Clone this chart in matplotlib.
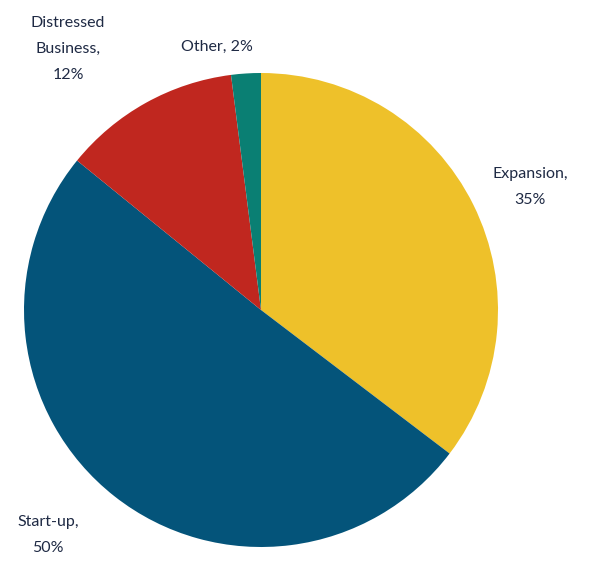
import matplotlib.pyplot as plt

# funding purpose breakdown
categories = ['Expansion', 'Start-up', 'Distressed\nBusiness', 'Other']
shares = [35, 50, 12, 2]
colors = ['#EEC12A', '#04547A', '#C0271F', '#0A7F73']
# Other fits on one line
sep = [',\n', ',\n', ',\n', ', ']

# label anchor points in pixel space (x, y from top-left)
label_px = [(530, 187), (48, 535), (68, 49), (217, 47)]

W, H = 598, 562
cx, cy, r = 261, 310, 237

fig = plt.figure(figsize=(W / 100, H / 100), dpi=100)
ax = fig.add_axes([0, 0, 1, 1])

ax.pie(shares, colors=colors, startangle=90, counterclock=False,
       radius=1, wedgeprops=dict(linewidth=0))

for name, val, s, (px, py) in zip(categories, shares, sep, label_px):
    x = (px - cx) / r
    y = (cy - py) / r
    ax.text(x, y, f'{name}{s}{val}%', ha='center', va='center',
            fontsize=11.5, family=['Lato', 'DejaVu Sans'], color='#1F2A44',
            linespacing=2.05)

ax.set_xlim(-cx / r, (W - cx) / r)
ax.set_ylim(-(H - cy) / r, cy / r)
ax.set_aspect('auto')
ax.axis('off')

fig.savefig('out.png', dpi=100)
